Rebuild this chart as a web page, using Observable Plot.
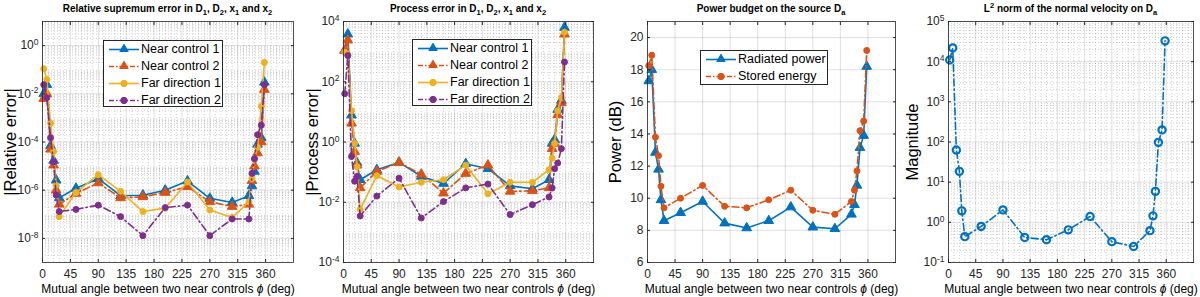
<!DOCTYPE html>
<html><head><meta charset="utf-8">
<script src="https://cdn.jsdelivr.net/npm/d3@7"></script>
<script src="https://cdn.jsdelivr.net/npm/@observablehq/plot@0.6"></script>
<style>
body{margin:0;background:#fff;font-family:"Liberation Sans",Arial,sans-serif}
#root{position:relative;width:1200px;height:297px;overflow:hidden}
.panel{position:absolute;top:0;width:300px;height:297px}
.panel svg{position:absolute;left:0;top:0}
.title{position:absolute;top:3px;font-weight:bold;font-size:10px;white-space:nowrap;transform:translateX(-50%);color:#000;line-height:12px}
.title sub{font-size:7.5px;vertical-align:-3px;line-height:0}
.title sup{font-size:7.5px;vertical-align:4px;line-height:0}
.legend{position:absolute;background:#fff;border:0.8px solid #262626;box-sizing:border-box}
.legend .item{position:absolute;left:0;height:17px;white-space:nowrap;font-size:12.5px;color:#000}
.legend .item svg{position:absolute;left:4px;top:0}
.legend .item span{position:absolute;left:37px;top:1px}
</style></head><body><div id="root"></div>
<script>
// ---------- data ----------
const angles = [2, 7, 13, 18, 22, 27, 54, 90, 126, 162, 198, 234, 270, 306, 333, 338, 342, 347, 353, 358];
const xTickValues = [0, 45, 90, 135, 180, 225, 270, 315, 360];

// Panel 1: relative supremum error
const relNear1 = [1.0e-2, 2.4e-2, 7e-5, 1.7e-5, 2.6e-6, 4.8e-7, 1.2e-6, 3e-6, 5.9e-7, 6.2e-7, 1e-6, 2.4e-6, 4.6e-7, 3.1e-7, 5.9e-7, 1.5e-6, 6e-6, 8e-5, 1.5e-4, 3e-2];
const relNear2 = [6.3e-3, 1e-2, 5e-5, 1.1e-5, 1e-6, 2.6e-7, 7.3e-7, 2e-6, 4.8e-7, 5.3e-7, 8e-7, 1.4e-6, 3.3e-7, 2.1e-7, 2.6e-7, 2.5e-6, 1e-5, 3.5e-5, 1e-4, 1.5e-2];
const relFar1  = [0.11, 0.039, 6e-4, 4e-5, 1.6e-6, 8e-8, 8e-7, 4.4e-6, 9e-7, 1.3e-7, 1.8e-7, 2.2e-6, 1.5e-7, 7.3e-8, 3.3e-7, 3e-6, 2e-5, 6e-5, 3e-3, 0.2];
const relFar2  = [0.024, 6.9e-3, 1.5e-4, 1.5e-5, 6.3e-7, 1.3e-7, 1.6e-7, 2.4e-7, 8e-8, 1.3e-8, 1.9e-7, 2.4e-7, 1.3e-8, 6.4e-8, 6.4e-8, 5e-6, 2e-5, 2e-4, 5e-4, 2.4e-2];

// Panel 2: process error
const procNear1 = [1.1e3, 3.8e3, 7.8, 0.9, 0.2, 0.056, 0.12, 0.21, 0.072, 0.042, 0.19, 0.13, 0.035, 0.028, 0.056, 0.9, 1.2, 12, 24, 6.3e3];
const procNear2 = [1.1e3, 2.4e3, 4.2, 0.48, 0.17, 0.03, 0.105, 0.21, 0.085, 0.02, 0.09, 0.17, 0.023, 0.024, 0.03, 0.6, 0.9, 8, 20, 3.8e3];
const procFar1  = [950, 800, 11, 0.9, 0.15, 5.8e-3, 0.076, 0.032, 0.046, 0.056, 0.17, 0.019, 0.046, 0.046, 0.12, 0.29, 0.9, 11, 30, 4.4e3];
const procFar2  = [40, 740, 0.33, 0.05, 0.072, 3.5e-3, 0.016, 0.063, 3e-3, 0.0105, 0.03, 0.04, 3.9e-3, 8.3e-3, 0.015, 0.03, 0.13, 0.2, 0.6, 450];

// Panel 3: power budget (dB)
const radiated = [17.3, 18.0, 12.85, 11.8, 9.9, 8.6, 9.1, 9.8, 8.45, 8.15, 8.6, 9.45, 8.2, 8.1, 9.0, 9.6, 10.8, 13.15, 13.9, 18.2];
const stored   = [18.25, 18.9, 13.8, 12.65, 10.75, 9.4, 10.0, 10.8, 9.5, 9.4, 9.9, 10.5, 9.25, 9.0, 9.8, 10.5, 11.7, 14.2, 14.8, 19.2];

// Panel 4: L2 norm of normal velocity
const velocity = [1.1e4, 2.2e4, 63, 18.6, 1.93, 0.44, 0.79, 2.04, 0.42, 0.37, 0.65, 1.4, 0.33, 0.25, 0.62, 1.45, 5.9, 98, 200, 3.3e4];

const xLabel = "Mutual angle between two near controls \u03d5 (deg)";
const C = {blue: "#0072BD", orange: "#D95319", yellow: "#EDB120", purple: "#7E2F8E"};
const DASHDOT = "7,3,1.5,3";

// ---------- helpers ----------
const root = document.getElementById("root");
const SVGNS = "http://www.w3.org/2000/svg";
const xMinor = d3.range(9, 405, 9).filter(v => v % 45 !== 0);
function logMinor(lo, hi) {
  const out = [];
  for (let k = lo; k < hi; k++) for (let m = 2; m <= 9; m++) out.push(m * Math.pow(10, k));
  return out;
}
function series(vals) { return angles.map((a, i) => ({x: a, y: vals[i]})); }

function seriesMarks(vals, color, dash, symbol, r, open) {
  const d = series(vals);
  return [
    Plot.line(d, {x: "x", y: "y", stroke: color, strokeWidth: 1.6, strokeDasharray: dash || null}),
    Plot.dot(d, {x: "x", y: "y", symbol, r, fill: open ? "none" : color, stroke: color, strokeWidth: open ? 2.2 : 1})
  ];
}

function supTicks(svg) {
  svg.querySelectorAll('g[aria-label="y-axis tick label"] text').forEach(t => {
    const s = t.textContent;
    if (s.startsWith("10^")) {
      t.textContent = "10";
      const ts = document.createElementNS(SVGNS, "tspan");
      ts.setAttribute("dy", "-0.5em");
      ts.setAttribute("font-size", "8.5");
      ts.textContent = s.slice(3);
      t.appendChild(ts);
    }
  });
}
function italicPhi(svg) {
  svg.querySelectorAll("text").forEach(t => {
    if (t.textContent === xLabel && !t.querySelector("tspan")) {
      const [a, b] = xLabel.split("\u03d5");
      t.textContent = a;
      const ts = document.createElementNS(SVGNS, "tspan");
      ts.setAttribute("font-style", "italic");
      ts.textContent = "\u03d5";
      t.appendChild(ts);
      t.appendChild(document.createTextNode(b));
    }
  });
}

function makePanel(cfg) {
  const div = document.createElement("div");
  div.className = "panel";
  div.style.left = cfg.left + "px";
  root.appendChild(div);
  const isLog = cfg.yType === "log";
  const marks = [];
  if (cfg.minor) {
    marks.push(Plot.gridX({ticks: xMinor, stroke: "#262626", strokeOpacity: 0.22, strokeDasharray: "1,2"}));
    if (isLog) marks.push(Plot.gridY({ticks: logMinor(cfg.kLo, cfg.kHi), stroke: "#262626", strokeOpacity: 0.22, strokeDasharray: "1,2"}));
  }
  marks.push(Plot.gridX({ticks: xTickValues, stroke: "#262626", strokeOpacity: 0.14}));
  marks.push(Plot.gridY({ticks: cfg.yTicks, stroke: "#262626", strokeOpacity: 0.14}));
  marks.push(...cfg.marks);
  marks.push(Plot.frame({stroke: "#262626", strokeWidth: 0.8}));
  marks.push(Plot.axisX({ticks: xTickValues, tickSize: -3, tickPadding: 10, fontSize: 12, label: null, color: "#262626"}));
  marks.push(Plot.axisX({anchor: "top", ticks: xTickValues, tickSize: -3, tickFormat: () => "", label: null, color: "#262626"}));
  marks.push(Plot.axisY({ticks: cfg.yTicks, tickSize: -3, tickPadding: 7, fontSize: 12, label: null, color: "#262626",
    tickFormat: isLog ? (d => "10^" + Math.round(Math.log10(d))) : (d => String(d))}));
  marks.push(Plot.axisY({anchor: "right", ticks: cfg.yTicks, tickSize: -3, tickFormat: () => "", label: null, color: "#262626"}));
  marks.push(Plot.text([cfg.yLabel], {frameAnchor: "left", rotate: -90, dx: -cfg.yLabelOff, textAnchor: "middle", lineAnchor: "middle", fontSize: 16.5, fill: "#000"}));
  marks.push(Plot.text([xLabel], {frameAnchor: "bottom", dy: 27, textAnchor: "middle", lineAnchor: "middle", fontSize: 12, fill: "#000"}));
  const svg = Plot.plot({
    width: 300, height: 297,
    marginTop: 21, marginBottom: 35, marginLeft: cfg.mL, marginRight: cfg.mR,
    style: {fontFamily: "'Liberation Sans', Arial, sans-serif", background: "transparent", overflow: "visible"},
    x: {type: "linear", domain: [0, 405]},
    y: {type: cfg.yType, domain: cfg.yDomain},
    marks
  });
  if (isLog) supTicks(svg);
  italicPhi(svg);
  div.appendChild(svg);
  // title
  const t = document.createElement("div");
  t.className = "title";
  t.style.left = (cfg.mL + (300 - cfg.mL - cfg.mR) / 2) + "px";
  t.innerHTML = cfg.title;
  div.appendChild(t);
  // legend
  if (cfg.legend) {
    const L = cfg.legend;
    const lg = document.createElement("div");
    lg.className = "legend";
    Object.assign(lg.style, {left: L.x + "px", top: L.y + "px", width: L.w + "px", height: L.h + "px"});
    L.items.forEach((it, i) => {
      const row = document.createElement("div");
      row.className = "item";
      row.style.top = (L.pad + i * 17) + "px";
      const marker = it.symbol === "triangle"
        ? `<path d="M16,3.2 L20.2,10.5 L11.8,10.5 Z" fill="${it.color}" stroke="${it.color}"/>`
        : `<circle cx="16" cy="8.5" r="3.2" fill="${it.color}" stroke="${it.color}"/>`;
      row.innerHTML = `<svg width="32" height="17"><line x1="1" x2="31" y1="8.5" y2="8.5" stroke="${it.color}" stroke-width="1.6" ${it.dash ? `stroke-dasharray="${it.dash}"` : ""}/>${marker}</svg><span>${it.label}</span>`;
      lg.appendChild(row);
    });
    div.appendChild(lg);
  }
}

// ---------- panels ----------
makePanel({
  left: 0, mL: 42, mR: 7, yType: "log", yDomain: [1e-9, 10], kLo: -9, kHi: 1, minor: true,
  yTicks: [1e-8, 1e-6, 1e-4, 1e-2, 1],
  yLabel: "|Relative error|", yLabelOff: 32,
  title: "Relative supremum error in D<sub>1</sub>, D<sub>2</sub>, x<sub>1</sub> and x<sub>2</sub>",
  marks: [
    ...seriesMarks(relNear1, C.blue, null, "triangle", 3.6),
    ...seriesMarks(relNear2, C.orange, DASHDOT, "triangle", 3.6),
    ...seriesMarks(relFar1, C.yellow, null, "circle", 3),
    ...seriesMarks(relFar2, C.purple, DASHDOT, "circle", 3)
  ],
  legend: {x: 103, y: 40, w: 120, h: 67, pad: 0, items: [
    {label: "Near control 1", color: C.blue, symbol: "triangle"},
    {label: "Near control 2", color: C.orange, symbol: "triangle", dash: "5,2,1.5,2"},
    {label: "Far direction 1", color: C.yellow, symbol: "circle"},
    {label: "Far direction 2", color: C.purple, symbol: "circle", dash: "5,2,1.5,2"}
  ]}
});

makePanel({
  left: 300, mL: 43, mR: 7, yType: "log", yDomain: [1e-4, 1e4], kLo: -4, kHi: 4, minor: true,
  yTicks: [1e-4, 1e-2, 1, 1e2, 1e4],
  yLabel: "|Process error|", yLabelOff: 31,
  title: "Process error in D<sub>1</sub>, D<sub>2</sub>, x<sub>1</sub> and x<sub>2</sub>",
  marks: [
    ...seriesMarks(procNear1, C.blue, null, "triangle", 3.6),
    ...seriesMarks(procNear2, C.orange, DASHDOT, "triangle", 3.6),
    ...seriesMarks(procFar1, C.yellow, null, "circle", 3),
    ...seriesMarks(procFar2, C.purple, DASHDOT, "circle", 3)
  ],
  legend: {x: 112, y: 39, w: 120, h: 67, pad: 0, items: [
    {label: "Near control 1", color: C.blue, symbol: "triangle"},
    {label: "Near control 2", color: C.orange, symbol: "triangle", dash: "5,2,1.5,2"},
    {label: "Far direction 1", color: C.yellow, symbol: "circle"},
    {label: "Far direction 2", color: C.purple, symbol: "circle", dash: "5,2,1.5,2"}
  ]}
});

makePanel({
  left: 600, mL: 47, mR: 5, yType: "linear", yDomain: [6, 21], minor: false,
  yTicks: [6, 8, 10, 12, 14, 16, 18, 20],
  yLabel: "Power (dB)", yLabelOff: 32,
  title: "Power budget on the source D<sub>a</sub>",
  marks: [
    ...seriesMarks(radiated, C.blue, null, "triangle", 3.6),
    ...seriesMarks(stored, C.orange, DASHDOT, "circle", 3)
  ],
  legend: {x: 100, y: 50, w: 128, h: 35, pad: 0, items: [
    {label: "Radiated power", color: C.blue, symbol: "triangle"},
    {label: "Stored energy", color: C.orange, symbol: "circle", dash: "5,2,1.5,2"}
  ]}
});

makePanel({
  left: 900, mL: 48, mR: 7, yType: "log", yDomain: [0.1, 1e5], kLo: -1, kHi: 5, minor: true,
  yTicks: [0.1, 1, 10, 100, 1e3, 1e4, 1e5],
  yLabel: "Magnitude", yLabelOff: 36,
  title: "L<sup>2</sup> norm of the normal velocity on D<sub>a</sub>",
  marks: [
    ...seriesMarks(velocity, C.blue, DASHDOT, "circle", 3.6, true)
  ]
});
</script></body></html>
